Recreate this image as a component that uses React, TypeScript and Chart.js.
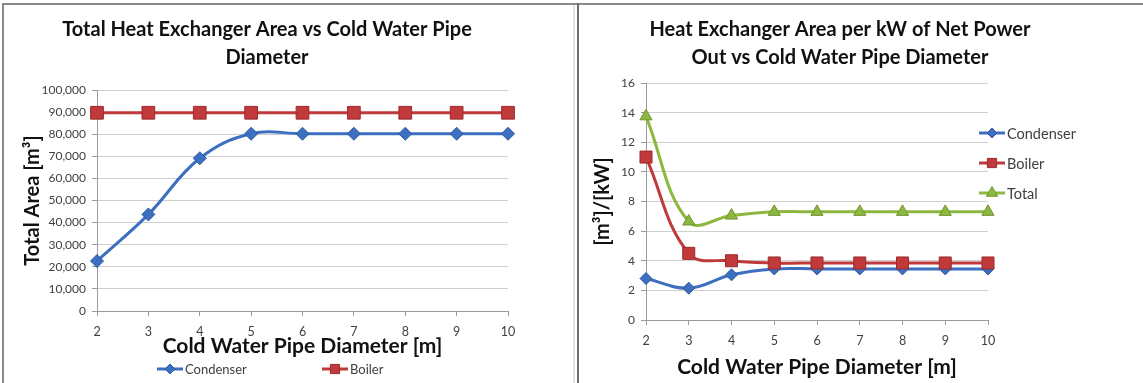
import React, { useEffect, useRef } from 'react';
import { Chart, registerables } from 'chart.js';

Chart.register(...registerables);

// ---- data ----
const diameters = ['2', '3', '4', '5', '6', '7', '8', '9', '10'];

const areaCondenser = [22600, 43700, 69100, 80200, 80200, 80200, 80200, 80200, 80200];
const areaBoiler = [89700, 89700, 89700, 89700, 89700, 89700, 89700, 89700, 89700];

const perKwCondenser = [2.8, 2.15, 3.05, 3.45, 3.45, 3.45, 3.45, 3.45, 3.45];
const perKwBoiler = [11.0, 4.5, 4.0, 3.85, 3.85, 3.85, 3.85, 3.85, 3.85];
const perKwTotal = [13.75, 6.65, 7.05, 7.3, 7.3, 7.3, 7.3, 7.3, 7.3];

const leftTitle = ['Total Heat Exchanger Area vs Cold Water Pipe', 'Diameter'];
const rightTitle = ['Heat Exchanger Area per kW of Net Power', 'Out vs Cold Water Pipe Diameter'];
const xAxisTitle = 'Cold Water Pipe Diameter [m]';
const leftYTitle = 'Total Area [m³]';
const rightYTitle = '[m³]/[kW]';

// ---- styling ----
const FONT = 'Lato, "Open Sans", sans-serif';
const BLUE = '#3d6fc0';
const BLUE_EDGE = '#2f5aa0';
const RED = '#c0393b';
const RED_EDGE = '#9e2a2c';
const GREEN = '#8db83f';
const GREEN_EDGE = '#6f9530';
const GRID = '#cfcfcf';
const AXIS = '#9a9a9a';
const TICK_TEXT = '#404040';
const HEIGHT = 383;

Chart.defaults.font.family = FONT;

function drawMarker(
  ctx: CanvasRenderingContext2D,
  style: string,
  x: number,
  y: number,
  r: number,
  fill: string,
  edge: string
) {
  ctx.beginPath();
  if (style === 'rectRot') {
    ctx.moveTo(x - r, y);
    ctx.lineTo(x, y - r);
    ctx.lineTo(x + r, y);
    ctx.lineTo(x, y + r);
  } else if (style === 'rect') {
    const s = r * Math.SQRT1_2;
    ctx.rect(x - s, y - s, 2 * s, 2 * s);
  } else {
    for (let k = 0; k < 3; k++) {
      const a = (k * 2 * Math.PI) / 3;
      const px = x + Math.sin(a) * r;
      const py = y - Math.cos(a) * r;
      if (k === 0) ctx.moveTo(px, py);
      else ctx.lineTo(px, py);
    }
  }
  ctx.closePath();
  ctx.fillStyle = fill;
  ctx.fill();
  ctx.lineWidth = 1;
  ctx.strokeStyle = edge;
  ctx.stroke();
}

// Two-line bold heading, centred on a given x.
const headingPlugin = {
  id: 'heading',
  afterDraw(chart: any, _args: any, opts: any) {
    const { ctx } = chart;
    ctx.save();
    ctx.font = `bold ${opts.size}px ${FONT}`;
    ctx.fillStyle = '#111111';
    ctx.textAlign = 'center';
    ctx.textBaseline = 'middle';
    opts.lines.forEach((line: string, i: number) => {
      ctx.fillText(line, opts.x, opts.y + i * opts.gap);
    });
    ctx.restore();
  },
};

// Series key: line sample with its marker, followed by the series name.
const keyPlugin = {
  id: 'key',
  afterDraw(chart: any, _args: any, opts: any) {
    const { ctx } = chart;
    ctx.save();
    ctx.font = `${opts.size}px ${FONT}`;
    ctx.textAlign = 'left';
    ctx.textBaseline = 'middle';
    chart.data.datasets.forEach((ds: any, i: number) => {
      const x = opts.x + i * opts.dx;
      const y = opts.y + i * opts.dy;
      ctx.beginPath();
      ctx.moveTo(x, y);
      ctx.lineTo(x + opts.len, y);
      ctx.lineWidth = 3;
      ctx.strokeStyle = ds.borderColor;
      ctx.stroke();
      drawMarker(ctx, ds.pointStyle, x + opts.len / 2, y, opts.markerSizes[i], ds.pointBackgroundColor, ds.pointBorderColor);
      ctx.fillStyle = TICK_TEXT;
      ctx.fillText(ds.label, x + opts.len + 2, y + 1);
    });
    ctx.restore();
  },
};

function series(label: string, data: number[], color: string, edge: string, style: string, radius: number, order: number) {
  return {
    label,
    data,
    borderColor: color,
    backgroundColor: color,
    borderWidth: 3,
    tension: 0.4,
    pointStyle: style,
    pointRadius: radius,
    pointHoverRadius: radius,
    pointBackgroundColor: color,
    pointBorderColor: edge,
    pointBorderWidth: 1,
    order,
  };
}

function xScale(height: number) {
  return {
    offset: false,
    grid: { drawOnChartArea: false, tickLength: 5, tickColor: AXIS },
    border: { color: AXIS, width: 1 },
    ticks: { color: TICK_TEXT, font: { size: 12.5 }, padding: 8, maxRotation: 0, autoSkip: false },
    title: {
      display: true,
      text: xAxisTitle,
      color: '#111111',
      font: { size: 21, weight: 'bold' },
      padding: { top: 0, bottom: 1 },
    },
    afterFit: (s: any) => {
      s.height = height;
    },
  };
}

function yScale(max: number, step: number, width: number, title: string, titlePad: number, fmt: (v: number) => string) {
  return {
    min: 0,
    max,
    grid: { color: GRID, tickLength: 5, tickColor: AXIS },
    border: { color: AXIS, width: 1 },
    ticks: { stepSize: step, color: TICK_TEXT, font: { size: 12 }, padding: 6, callback: (v: any) => fmt(Number(v)) },
    title: {
      display: true,
      text: title,
      color: '#111111',
      font: { size: 20, weight: 'bold' },
      padding: { top: titlePad, bottom: 0 },
    },
    afterFit: (s: any) => {
      s.width = width;
    },
  };
}

function leftConfig(): any {
  return {
    type: 'line',
    data: {
      labels: diameters,
      datasets: [
        series('Condenser', areaCondenser, BLUE, BLUE_EDGE, 'rectRot', 6.5, 1),
        series('Boiler', areaBoiler, RED, RED_EDGE, 'rect', 9, 0),
      ],
    },
    options: {
      responsive: false,
      animation: false,
      layout: { padding: { left: 10, top: 90, right: 68, bottom: 23 } },
      plugins: {
        legend: { display: false },
        tooltip: { enabled: false },
        heading: { lines: leftTitle, x: 267, y: 30, gap: 28, size: 20 },
        key: { x: 157, y: 369, dx: 165, dy: 0, len: 26, size: 13, markerSizes: [5, 6.5] },
      },
      scales: {
        x: xScale(49),
        y: yScale(100000, 10000, 87, leftYTitle, 11, (v) => v.toLocaleString('en-US')),
      },
    },
    plugins: [headingPlugin, keyPlugin],
  };
}

function rightConfig(): any {
  return {
    type: 'line',
    data: {
      labels: diameters,
      datasets: [
        series('Condenser', perKwCondenser, BLUE, BLUE_EDGE, 'rectRot', 6, 2),
        series('Boiler', perKwBoiler, RED, RED_EDGE, 'rect', 8.5, 1),
        series('Total', perKwTotal, GREEN, GREEN_EDGE, 'triangle', 7, 0),
      ],
    },
    options: {
      responsive: false,
      animation: false,
      layout: { padding: { left: 6, top: 83, right: 155, bottom: 2 } },
      plugins: {
        legend: { display: false },
        tooltip: { enabled: false },
        heading: { lines: rightTitle, x: 261, y: 30, gap: 28, size: 20 },
        key: { x: 400, y: 133, dx: 0, dy: 30, len: 26, size: 14.5, markerSizes: [5, 6.5, 6.5] },
      },
      scales: {
        x: xScale(61),
        y: yScale(16, 2, 61, rightYTitle, 6, (v) => String(v)),
      },
    },
    plugins: [headingPlugin, keyPlugin],
  };
}

function ChartCanvas({ make, left, width }: { make: () => any; left: number; width: number }) {
  const ref = useRef<HTMLCanvasElement>(null);
  useEffect(() => {
    const chart = new Chart(ref.current as HTMLCanvasElement, make());
    return () => chart.destroy();
  }, [make]);
  return (
    <canvas
      ref={ref}
      width={width}
      height={HEIGHT}
      style={{ position: 'absolute', left, top: 0, width, height: HEIGHT }}
    />
  );
}

const line = (style: React.CSSProperties): React.CSSProperties => ({ position: 'absolute', ...style });

export default function App() {
  return (
    <div style={{ position: 'absolute', left: 0, top: 0, width: 1143, height: HEIGHT, background: '#ffffff', overflow: 'hidden' }}>
      <ChartCanvas make={leftConfig} left={0} width={576} />
      <ChartCanvas make={rightConfig} left={579} width={564} />
      <div style={line({ left: 2, top: 3, width: 1141, height: 2, background: '#8a8a8a' })} />
      <div style={line({ left: 2, top: 3, width: 2, height: 380, background: '#8a8a8a' })} />
      <div style={line({ left: 573, top: 5, width: 2, height: 378, background: '#e2e2e2' })} />
      <div style={line({ left: 577, top: 3, width: 2, height: 380, background: '#6e6e6e' })} />
    </div>
  );
}
